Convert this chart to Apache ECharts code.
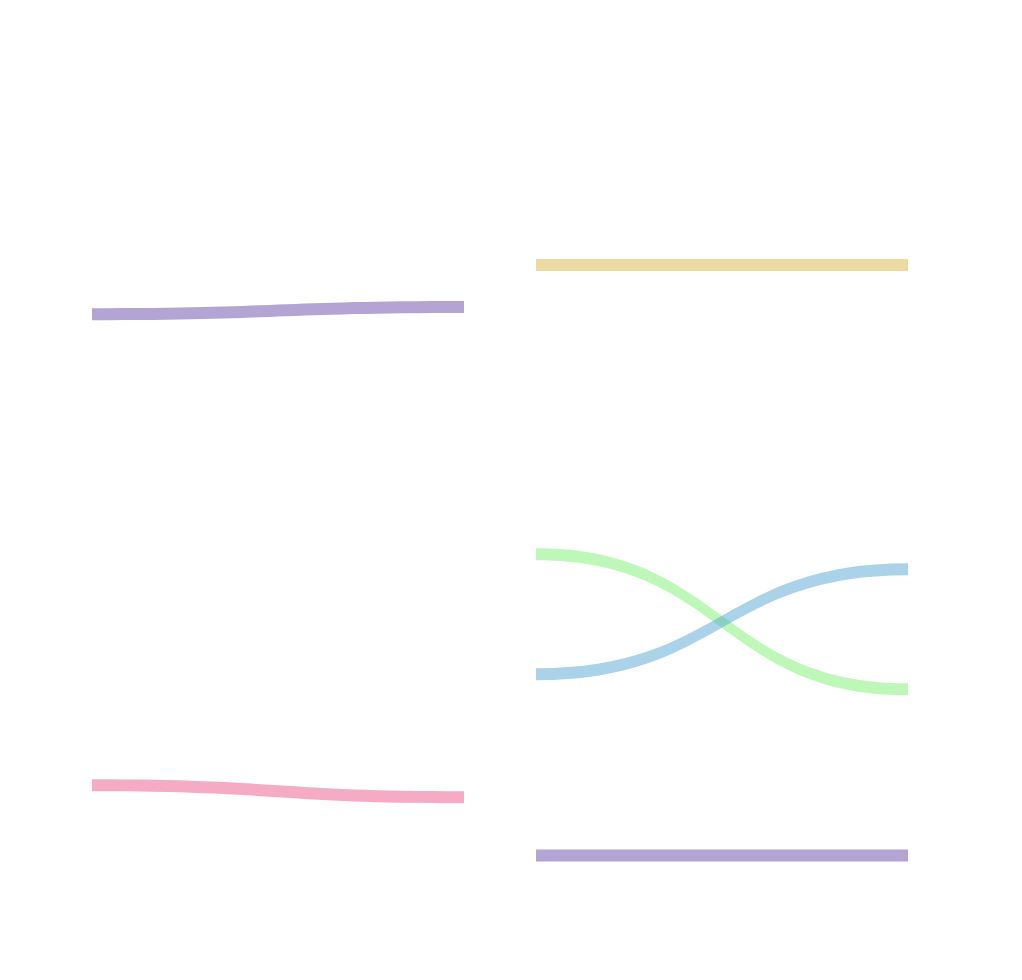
<!DOCTYPE html>
<html>
<head>
<meta charset="utf-8">
<style>
html, body { margin: 0; padding: 0; background: #fff; }
#main { width: 1022px; height: 980px; }
</style>
<script src="https://cdn.jsdelivr.net/npm/echarts@6/dist/echarts.min.js"></script>
</head>
<body>
<div id="main"></div>
<script>
// nodes (hidden), one column per depth
var nodeNames  = ['a0', 'a1', 'a2', 'b1', 'b2', 'b3', 'b4', 'b5', 'b6', 'c1', 'c2', 'c3', 'c4'];
var nodeDepths = [0, 0, 0, 1, 1, 1, 1, 1, 1, 2, 2, 2, 2];
var nodeValues = [4.1, 39.25, 1, 3.5, 20.6, 10, 10.25, 4.85, 1, 25.35, 10, 13.85, 1];

// links
var linkSources = ['a1', 'a2', 'b1', 'b3', 'b4', 'b6'];
var linkTargets = ['b2', 'b5', 'c1', 'c3', 'c2', 'c4'];
var linkValues  = [1, 1, 1, 1, 1, 1];
var linkColors  = ['#6749a7', '#e95787', '#d9b541', '#7df171', '#55a7d3', '#6749a7'];

var myChart = echarts.init(document.getElementById('main'));

var nodes = [];
for (var i = 0; i < nodeNames.length; i++) {
    nodes.push({name: nodeNames[i], depth: nodeDepths[i], value: nodeValues[i]});
}
var links = [];
for (var j = 0; j < linkSources.length; j++) {
    links.push({
        source: linkSources[j],
        target: linkTargets[j],
        value: linkValues[j],
        lineStyle: {color: linkColors[j]}
    });
}

var option = {
    animation: false,
    series: [{
        type: 'sankey',
        left: 20,
        right: 42,
        top: 259,
        bottom: 118.6,
        nodeWidth: 72,
        nodeGap: 0,
        nodeAlign: 'left',
        layoutIterations: 0,
        draggable: false,
        label: {show: false},
        itemStyle: {color: 'rgba(0,0,0,0)', borderWidth: 0},
        lineStyle: {curveness: 0.5, opacity: 0.5},
        emphasis: {disabled: true},
        data: nodes,
        links: links
    }]
};
myChart.setOption(option);
</script>
</body>
</html>
